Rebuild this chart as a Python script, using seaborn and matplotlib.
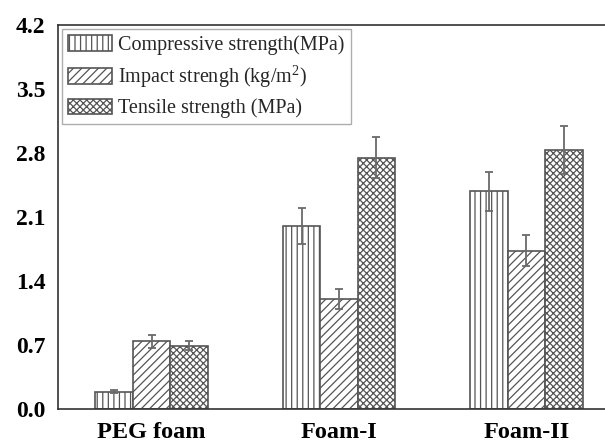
import matplotlib
matplotlib.use("Agg")
import matplotlib.pyplot as plt
from matplotlib.container import BarContainer
import seaborn as sns
import pandas as pd
import numpy as np

categories = ["PEG foam", "Foam-I", "Foam-II"]
series = ["Compressive strength(MPa)", "Impact strengh (kg/m$^2$)", "Tensile strength (MPa)"]
compressive = [0.19, 2.00, 2.38]
compressive_err = [0.02, 0.20, 0.21]
impact = [0.74, 1.20, 1.73]
impact_err = [0.07, 0.11, 0.17]
tensile = [0.69, 2.75, 2.83]
tensile_err = [0.05, 0.22, 0.26]
yticks = [0.0, 0.7, 1.4, 2.1, 2.8, 3.5, 4.2]

vals = [compressive, impact, tensile]
errs = [compressive_err, impact_err, tensile_err]
rows = []
for s, v, e in zip(series, vals, errs):
    for c, vv, ee in zip(categories, v, e):
        rows.append({"cat": c, "series": s, "value": vv, "err": ee})
df = pd.DataFrame(rows)

sns.set_style("white")
plt.rcParams['font.family'] = ['Liberation Serif', 'DejaVu Serif']
plt.rcParams['hatch.linewidth'] = 0.9
plt.rcParams['mathtext.fontset'] = 'custom'
plt.rcParams['mathtext.rm'] = 'Liberation Serif'

fig = plt.figure(figsize=(6.05, 4.43), dpi=100)
ax = fig.add_axes([58/605, (443-409)/443, (620-58)/605, (409-25)/443])

sns.barplot(data=df, x="cat", y="value", hue="series", order=categories,
            hue_order=series, width=0.6, errorbar=None, ax=ax,
            palette=["white", "white", "white"], edgecolor="#555555",
            linewidth=1.2, legend=True)

hatches = ["|||", "////", "xxxxx"]
hatch_col = "#8a8a8a"


def style_patch(p, ht):
    p.set_hatch(ht)
    p.set_edgecolor("#555555")
    try:
        p.set_hatchcolor(hatch_col)
    except Exception:
        pass


bar_conts = [c for c in ax.containers if isinstance(c, BarContainer)]
for i, cont in enumerate(bar_conts):
    for j, bar in enumerate(cont.patches):
        style_patch(bar, hatches[i])
        x = bar.get_x() + bar.get_width() / 2
        ax.errorbar(x, bar.get_height(), yerr=errs[i][j], fmt="none",
                    ecolor="#6a6a6a", elinewidth=1.3, capsize=3, capthick=1.3)

ax.set_xlim(-0.5, 2.5)
ax.set_ylim(0, 4.2)
ax.set_yticks(yticks)
ax.set_yticklabels([f"{t:.1f}" for t in yticks])
ax.set_yticks(np.arange(0.35, 4.2, 0.7), minor=True)
ax.set_xticks([0.5, 1.5], minor=True)
ax.set_xlabel("")
ax.set_ylabel("")
for sp in ax.spines.values():
    sp.set_visible(True)
    sp.set_color("#333333")
    sp.set_linewidth(1.2)
ax.tick_params(axis="both", which="major", direction="out", width=1.0,
               colors="#333333", labelcolor="black")
ax.tick_params(axis="y", which="major", length=7, labelsize=17, pad=2)
ax.tick_params(axis="x", which="major", length=5, labelsize=17.5, pad=4)
ax.tick_params(axis="both", which="minor", direction="out", length=3.5, width=1.0,
               colors="#333333")
for lab in ax.get_xticklabels() + ax.get_yticklabels():
    lab.set_fontweight("bold")

leg = ax.legend(loc="upper left", bbox_to_anchor=(0.0, 1.0), fontsize=14.5,
                frameon=True, fancybox=False, edgecolor="#999999",
                handlelength=2.2, handleheight=0.8, handletextpad=0.3,
                borderpad=0.3, labelspacing=0.42, borderaxespad=0.2)
leg.get_frame().set_linewidth(1.0)
for h, ht in zip(leg.legend_handles, hatches):
    style_patch(h, ht)
    h.set_facecolor("white")

fig.savefig("out.png", dpi=100)
